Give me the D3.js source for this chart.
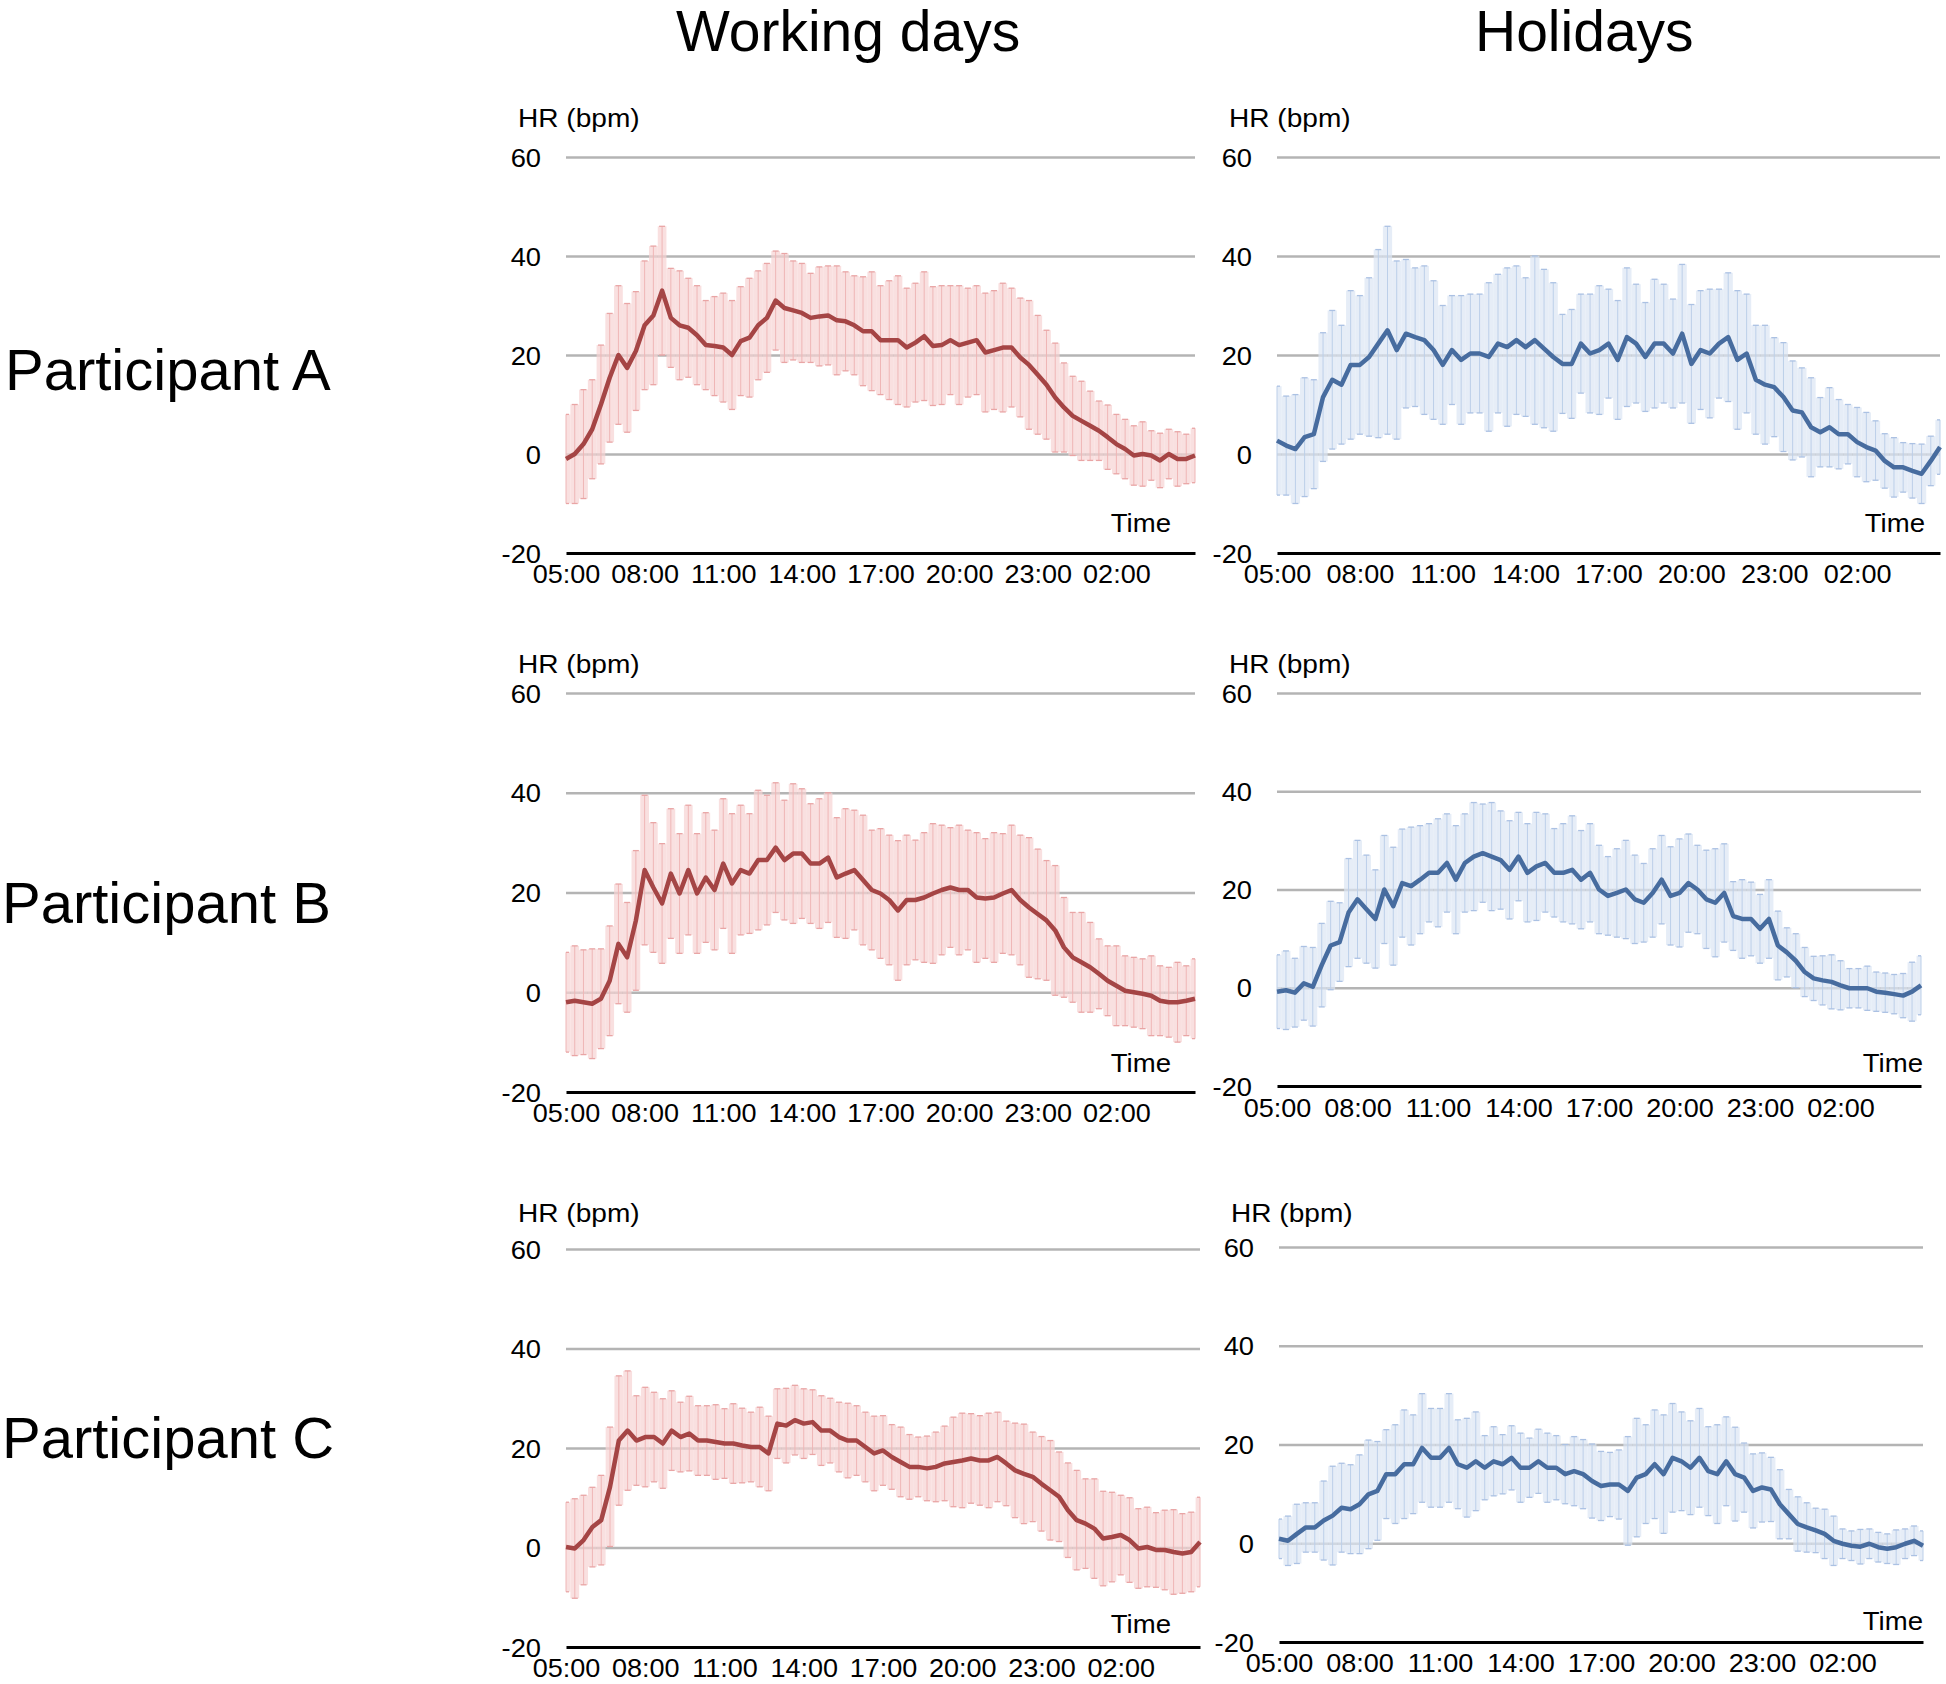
<!DOCTYPE html>
<html>
<head>
<meta charset="utf-8">
<script src="https://cdn.jsdelivr.net/npm/d3@7"></script>
<style>
body { margin: 0; background: #fff; }
text { font-family: "Liberation Sans", Arial, Helvetica, sans-serif; fill: #000; }
</style>
</head>
<body>
<div class="container"></div>
<script>
// sample times, every 20 min from 05:00 to 05:00 next day
var sampleTimes = ["05:00","05:20","05:40","06:00","06:20","06:40","07:00","07:20","07:40","08:00","08:20","08:40",
	"09:00","09:20","09:40","10:00","10:20","10:40","11:00","11:20","11:40","12:00","12:20","12:40",
	"13:00","13:20","13:40","14:00","14:20","14:40","15:00","15:20","15:40","16:00","16:20","16:40",
	"17:00","17:20","17:40","18:00","18:20","18:40","19:00","19:20","19:40","20:00","20:20","20:40",
	"21:00","21:20","21:40","22:00","22:20","22:40","23:00","23:20","23:40","00:00","00:20","00:40",
	"01:00","01:20","01:40","02:00","02:20","02:40","03:00","03:20","03:40","04:00","04:20","04:40","05:00"];
var hourTicks = ["05:00","08:00","11:00","14:00","17:00","20:00","23:00","02:00"];
var yTicks = [-20, 0, 20, 40, 60];
var gridValues = [0, 20, 40, 60];
var columnTitles = ["Working days", "Holidays"];
var participants = ["Participant A", "Participant B", "Participant C"];

// mean HR difference (bpm) and SD, participant A
var aWorkMean = [-1,0,2,5,10,15.4,20,17.4,20.8,26, 28,33,27.5,26,25.5,24,22,21.8,21.5,20,
	22.8,23.5,26,27.5,31,29.5,29,28.5,27.5,27.8, 28,27,26.8,26,24.8,24.8,23,23,23,21.5,
	22.5,23.8,21.8,22,23,22,22.5,23,20.5,21, 21.5,21.5,19.5,18,16,14,11.4,9.4,7.7,6.7,
	5.7,4.7,3.4,2,1,-0.3,0,-0.3,-1.3,0, -1,-1,-0.3];
var aWorkSd = [9,10,11,10,12,13,14,13,12,13, 14,13,10,11,10,10,9,10,11,11,
	11,12,11,11,10,11,10,10,9,10, 10,11,10,10,11,12,11,12,13,12,
	12,13,12,12,11,12,11,11,12,12, 13,12,12,13,12,11,11,9,8,8,
	7,6,6.5,6,6,6,6.5,5,5.5,5, 5.5,5,5.5];
var aHolMean = [2.7,1.7,1,3.4,4,11.5,15,14,18,18, 19.6,22.3,25,21,24.3,23.6,23,21,18,21,
	19,20.3,20.3,19.6,22.3,21.6,23,21.6,23,21.3, 19.6,18.2,18.2,22.3,20.3,21,22.3,19,23.6,22.3,
	19.6,22.3,22.3,20.3,24.3,18.2,21,20.3,22.3,23.6, 19,20.3,15,14,13.5,11.5,8.8,8.4,5.4,4.4,
	5.4,4,4,2.4,1.4,0.7,-1.4,-2.7,-2.7,-3.4, -4,-1.4,1.4];
var aHolSd = [11,10,11,12,11, 13,14,12, 15,14,16, 19,21,18, 15,14,15,14, 12,11,13,12,12,
	15,14,16,15,14, 17,16,15, 10,11,10, 12,13,11,12,14,12,11,13,12,11,14,12,12,13,11,
	13,14,12, 11,12, 10,11,10,9,10, 7,8,7,6,7,7,6, 5.5,6,5,5.5,6,5,5.5];

// participant B
var bWorkMean = [-2,-1.7,-2,-2.3,-1.3,2.3,9.7,7,14.4,24.5, 21,17.8,23.8,19.8,24.5,19.8,23,20.5,25.8,21.8,
	24.5,23.8,26.5,26.5,29,26.5,27.8,27.8,25.8,25.8, 27,23,23.8,24.5,22.5,20.5,19.8,18.5,16.4,18.5,
	18.5,19,19.8,20.5,21,20.5,20.5,19,18.8,19, 19.8,20.5,18.5,17,15.7,14.4,12.4,9,7,6,
	5,3.7,2.3,1.3,0.3,0,-0.3,-0.7,-1.7,-2, -2,-1.7,-1.3];
var bWorkSd = [10,11,10.5,11,10, 11,12,11, 14,15,13, 12,13,12,13,12,13,12, 13,14,13,12,14,13,
	13,12,14,13,12,13,13, 12,13,12,13,12,13, 13,14,13,12,13,14,13, 12,13,12,13,12,13,12,13,
	13,14,13,12,13, 10,9,10,9, 7,7,8,7, 7,7,8,7,7,8,7,8];
var bHolMean = [-0.8,-0.5,-1,0.9,0.2,4.6,8.6,9.3,15.3,18, 16,14,20,16.6,21.3,20.7,22,23.4,23.4,25.4,
	22,25.4,26.7,27.4,26.7,26,24,26.7,23.4,24.7, 25.4,23.4,23.4,24,22,23.4,20,18.7,19.3,20,
	18,17.3,19.3,22,18.7,19.3,21.3,20,18,17.3, 19.3,14.6,14,14,12,14,8.6,7.2,5.5,3.2,
	1.9,1.5,1.2,0.5,-0.1,-0.1,-0.1,-0.8,-1,-1.3, -1.6,-0.8,0.5];
var bHolSd = [7.5,8,7,7.5,8, 8.5,9,8, 11,12,11,10, 11,12,11,12,11, 10,11,10,11,10,11,
	10,11,10,10,9, 10,11,10,9,10,11,10,10, 9,8,9,10,9,8,9,9, 10,11,10,9,10,11,10,
	7,8,7.5,7,8,7, 5,5.5,5,4.5,5,5.5,5, 4,4,4.5,4,4,4,4.5,6,6];

// participant C
var cWorkMean = [0.1,-0.2,1.5,4.1,5.5,12.2,21.5,23.5,21.5,22.2, 22.2,20.9,23.5,22.2,22.9,21.5,21.5,21.2,20.9,20.9,
	20.5,20.2,20.2,18.9,24.9,24.5,25.6,24.9,25.2,23.5, 23.5,22.2,21.5,21.5,20.2,18.9,19.5,18.2,17.2,16.2,
	16.2,15.9,16.2,16.9,17.2,17.5,17.9,17.5,17.5,18.2, 16.9,15.5,14.8,14.2,12.8,11.5,10.2,7.5,5.5,4.8,
	3.8,1.8,2.1,2.5,1.5,-0.2,0.1,-0.5,-0.5,-0.9, -1.2,-0.9,1.1];
var cWorkSd = [9,10,9,8,9, 12,13,12, 9,10,9,9,8, 7,7.5,7,7, 7.5,7,8,7.5,7,8,7.5,
	7,7.5,7,7,6.5, 7,6.5,7,7.5,7, 7,7.5,7,6.5,7, 6.5,6,6.5,7,7.5, 9,9.5,9,9,9.5,9,8.5,
	9.5,10,9,9.5,10,9, 9.5,10,9,10,9.5,9, 8,8.5,8,8,7.5,8,8.5,8,8,9];
var cHolMean = [0.9,0.5,1.9,3.2,3.2,4.6,5.6,7.2,6.9,7.9, 9.9,10.6,14,14,16,16,19.3,17.3,17.3,19.3,
	16,15.3,16.6,15.3,16.6,16,17.3,15.3,15.3,16.6, 15.3,15.3,14,14.6,14,12.6,11.6,11.9,11.9,10.6,
	13.3,14,16,14,17.3,16.6,15.3,17.3,14.6,14, 16.6,14,13.3,10.6,11.3,10.9,7.9,5.9,3.9,3.2,
	2.6,1.9,0.5,-0.1,-0.5,-0.7,-0.1,-0.8,-1.1,-0.8, -0.1,0.5,-0.5];
var cHolSd = [4,5,6,5,5, 8,10,9,9, 10,11,10,9, 10,11,10,11,10, 10,11,9,10,10,
	6.5,7,6,6.5,7,6,6.5,7,6.5,6,7, 7,7.5,7,6.5,7, 11,12,10,11,12,11,10,
	9.5,10,9,10,9,9.5, 7,7.5,7,6.5,7, 5,5.5,5,4.5,5,5, 3,3,3.5,3,3,3,3.5,3,3,3];

// "HH:MM" -> hours after 05:00 (wraps past midnight)
function toHours(list) {
	var prev = -1;
	return list.map(function(s) {
		var p = s.split(':');
		var t = +p[0] + p[1] / 60 - 5;
		while (t <= prev) t += 24;
		prev = t;
		return t;
	});
}
var hours = toHours(sampleTimes);
var tickHours = toHours(hourTicks);

var styles = {
	work: {line: '#a54545', bar: '#efb6b6', cap: '#e9a5a5', band: '#f7d3d3'},
	hol: {line: '#476c9f', bar: '#bccfe9', cap: '#abc1e3', band: '#dbe5f4'}
};

// panel layout (pixels)
var panels = [
	{mean: aWorkMean, sd: aWorkSd, kind: 'work', left: 566, right: 1195, top: 157, bottom: 553, hrY: 127, timeX: 1171, timeY: 532, labY: 30},
	{mean: aHolMean, sd: aHolSd, kind: 'hol', left: 1277, right: 1940, top: 157, bottom: 553, hrY: 127, timeX: 1925, timeY: 532, labY: 30},
	{mean: bWorkMean, sd: bWorkSd, kind: 'work', left: 566, right: 1195, top: 693, bottom: 1092, hrY: 673, timeX: 1171, timeY: 1072, labY: 30},
	{mean: bHolMean, sd: bHolSd, kind: 'hol', left: 1277, right: 1921, top: 693, bottom: 1086, hrY: 673, timeX: 1923, timeY: 1072, labY: 31},
	{mean: cWorkMean, sd: cWorkSd, kind: 'work', left: 566, right: 1200, top: 1249, bottom: 1647, hrY: 1222, timeX: 1171, timeY: 1633, labY: 30},
	{mean: cHolMean, sd: cHolSd, kind: 'hol', left: 1279, right: 1923, top: 1247, bottom: 1642, hrY: 1222, timeX: 1923, timeY: 1630, labY: 30}
];

var svg = d3.select('.container').append('svg')
	.attr('width', 1946)
	.attr('height', 1684)
	.style('display', 'block')
	.style('background', '#fff');

// column titles
svg.selectAll('.coltitle')
	.data(columnTitles)
	.enter()
	.append('text')
	.attr('x', function(d, i) { return [676, 1475][i]; })
	.attr('y', 51)
	.style('font-size', '57px')
	.text(function(d) { return d; });

// row labels
svg.selectAll('.rowlabel')
	.data(participants)
	.enter()
	.append('text')
	.attr('x', function(d, i) { return [5, 2, 2][i]; })
	.attr('y', function(d, i) { return [390, 923, 1458][i]; })
	.style('font-size', '58px')
	.text(function(d) { return d; });

panels.forEach(function(p) {
	var st = styles[p.kind];
	var g = svg.append('g');

	var x = d3.scaleLinear().domain([0, 24]).range([p.left, p.right]);
	var y = d3.scaleLinear().domain([-20, 60]).range([p.bottom, p.top]);
	var step = x(hours[1]) - x(hours[0]);

	var pts = p.mean.map(function(m, i) {
		return {t: hours[i], m: m, sd: p.sd[i]};
	});

	// grid lines (0..60)
	var grid = g.append('g')
		.attr('transform', 'translate(' + p.left + ',0)')
		.call(d3.axisLeft(y).tickValues(gridValues).tickSize(-(p.right - p.left)).tickFormat(''));
	grid.select('.domain').remove();
	grid.selectAll('line').attr('stroke', '#b4b4b4').attr('stroke-width', 2.5);

	// sd band + whiskers (semi transparent so grid shows through)
	var bars = g.append('g');
	bars.selectAll('rect')
		.data(pts)
		.enter()
		.append('rect')
		.attr('x', function(d) { return Math.max(p.left, x(d.t) - step / 2); })
		.attr('width', function(d) {
			var x0 = Math.max(p.left, x(d.t) - step / 2);
			var x1 = Math.min(p.right, x(d.t) + step / 2);
			return x1 - x0;
		})
		.attr('y', function(d) { return y(d.m + d.sd); })
		.attr('height', function(d) { return y(d.m - d.sd) - y(d.m + d.sd); })
		.attr('fill', st.band)
		.attr('fill-opacity', 0.7);

	bars.selectAll('.whisker')
		.data(pts)
		.enter()
		.append('line')
		.attr('x1', function(d) { return x(d.t); })
		.attr('x2', function(d) { return x(d.t); })
		.attr('y1', function(d) { return y(d.m - d.sd); })
		.attr('y2', function(d) { return y(d.m + d.sd); })
		.attr('stroke', st.bar)
		.attr('stroke-width', 1);

	['up', 'down'].forEach(function(side) {
		bars.selectAll('.cap-' + side)
			.data(pts)
			.enter()
			.append('line')
			.attr('x1', function(d) { return Math.max(p.left, x(d.t) - 3); })
			.attr('x2', function(d) { return Math.min(p.right, x(d.t) + 3); })
			.attr('y1', function(d) { return y(side == 'up' ? d.m + d.sd : d.m - d.sd); })
			.attr('y2', function(d) { return y(side == 'up' ? d.m + d.sd : d.m - d.sd); })
			.attr('stroke', st.cap)
			.attr('stroke-width', 1.3);
	});

	// mean line
	var lineFunction = d3.line()
		.x(function(d) { return x(d.t); })
		.y(function(d) { return y(d.m); });

	g.append('path')
		.attr('d', lineFunction(pts))
		.attr('fill', 'none')
		.attr('stroke', st.line)
		.attr('stroke-width', 4.5)
		.attr('stroke-linejoin', 'round');

	// x axis (black line at -20) with time labels
	var xg = g.append('g')
		.attr('transform', 'translate(0,' + y(-20) + ')')
		.call(d3.axisBottom(x).tickValues(tickHours).tickSize(0).tickSizeOuter(0)
			.tickFormat(function(d, i) { return hourTicks[i]; }));
	xg.attr('font-family', null).attr('font-size', null);
	xg.select('.domain').attr('stroke', '#000').attr('stroke-width', 3);
	xg.selectAll('text')
		.attr('y', null)
		.attr('dy', null)
		.attr('fill', '#000')
		.attr('transform', 'translate(0,' + p.labY + ') scale(1.04,1)')
		.style('font-size', '26px');

	// y tick labels (plain hyphen for the minus, as in the original)
	var yg = g.append('g')
		.attr('transform', 'translate(' + p.left + ',0)')
		.call(d3.axisLeft(y).tickValues(yTicks).tickSize(0)
			.tickFormat(function(d) { return String(d); }));
	yg.attr('font-family', null).attr('font-size', null);
	yg.select('.domain').remove();
	yg.selectAll('text')
		.attr('x', null)
		.attr('dy', '0.35em')
		.attr('fill', '#000')
		.attr('transform', 'translate(-25,0) scale(1.05,1)')
		.style('font-size', '26px');

	// axis titles
	g.append('text')
		.attr('transform', 'translate(' + (p.left - 48) + ',' + p.hrY + ') scale(1.08,1)')
		.style('font-size', '26px')
		.text('HR (bpm)');

	g.append('text')
		.attr('transform', 'translate(' + p.timeX + ',' + p.timeY + ') scale(1.06,1)')
		.attr('text-anchor', 'end')
		.style('font-size', '26px')
		.text('Time');
});
</script>
</body>
</html>
